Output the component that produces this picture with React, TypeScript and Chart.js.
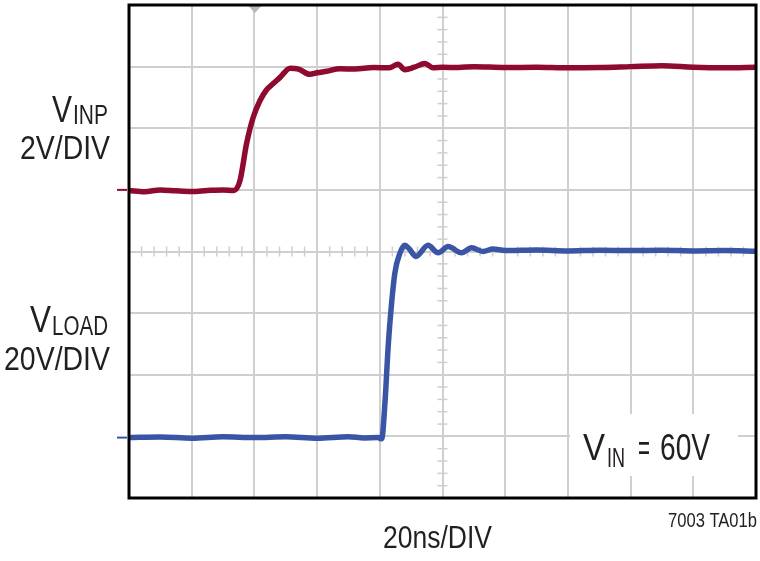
import React, { useEffect, useRef } from "react";
import { Chart, registerables } from "chart.js";

Chart.register(...registerables);

// Time axis: 20 ns/div, 10 divisions
const X_TICK_LABELS = ["0", "20", "40", "60", "80", "100", "120", "140", "160", "180", "200"];

// V_INP (2V/DIV), time in ns, value in volts
const inpTime = [0, 5, 10, 15, 20, 25, 30, 33.5, 35.4, 37.5, 39.6, 41.8, 43.9, 46, 48.2, 51.4, 54.1, 57.7, 60, 63.1, 67.3, 72, 78, 83, 85.8, 88, 91, 94.4, 97, 100, 105, 110, 120, 130, 140, 150, 160, 170, 180, 190, 200];
const inpVolts = [-0.02, -0.06, 0.0, -0.03, -0.05, -0.02, 0.0, -0.02, 0.3, 1.5, 2.35, 2.9, 3.25, 3.45, 3.65, 3.95, 3.92, 3.75, 3.8, 3.85, 3.93, 3.92, 3.97, 3.96, 4.08, 3.9, 3.98, 4.1, 3.96, 3.98, 3.97, 4.0, 3.97, 3.98, 3.96, 3.97, 4.0, 4.03, 3.98, 3.96, 3.98];

// V_LOAD (20V/DIV), time in ns, value in volts
const loadTime = [0, 10, 20, 30, 40, 50, 60, 70, 75, 79.4, 80.6, 81.7, 82.6, 83.3, 84.8, 86.4, 88, 89.3, 91.5, 95.4, 98.6, 101.8, 106.1, 109.3, 112.9, 116.1, 120, 130, 140, 150, 160, 170, 180, 190, 200];
const loadVolts = [-0.4, -0.2, -0.6, -0.1, -0.4, -0.1, -0.6, -0.1, -0.5, -0.4, -0.8, 11.8, 28, 37.8, 53, 59.4, 62, 61, 58.4, 62, 59.6, 61.6, 59.6, 61.2, 60, 60.8, 60.3, 60.5, 60.2, 60.4, 60.3, 60.4, 60.2, 60.3, 60.1];

const RED = "#8e0a2e";
const BLUE = "#3a55a5";
const GRID = "#cfcfcf";
const FONT = "'Liberation Sans', Arial, sans-serif";

function drawFit(ctx: CanvasRenderingContext2D, text: string, size: number, left: number, baseline: number, width?: number) {
  ctx.save();
  ctx.font = `${size}px ${FONT}`;
  ctx.textAlign = "left";
  ctx.textBaseline = "alphabetic";
  const w = ctx.measureText(text).width;
  const sx = width ? width / w : 1;
  ctx.translate(left, baseline);
  ctx.scale(sx, 1);
  ctx.fillStyle = "#231f20";
  ctx.fillText(text, 0, 0);
  ctx.restore();
}

const scopePlugin = {
  id: "scope",
  beforeDatasetsDraw(chart: any) {
    const ctx = chart.ctx as CanvasRenderingContext2D;
    const { top } = chart.chartArea;
    const xs = chart.scales.x;
    const ys = chart.scales.y;
    const cx = xs.getPixelForValue(100);
    const cy = ys.getPixelForValue(-2);
    ctx.save();
    ctx.strokeStyle = GRID;
    ctx.lineWidth = 1.5;
    // minor ticks on center vertical
    for (let v = -10; v <= 6; v += 0.4) {
      const py = ys.getPixelForValue(v);
      ctx.beginPath();
      ctx.moveTo(cx - 5, py);
      ctx.lineTo(cx + 5, py);
      ctx.stroke();
    }
    // minor ticks on center horizontal
    for (let t = 0; t <= 200; t += 4) {
      const px = xs.getPixelForValue(t);
      ctx.beginPath();
      ctx.moveTo(px, cy - 5);
      ctx.lineTo(px, cy + 5);
      ctx.stroke();
    }
    // trigger marker
    const tx = xs.getPixelForValue(40);
    ctx.fillStyle = "#b8b8b8";
    ctx.beginPath();
    ctx.moveTo(tx - 6, top + 1);
    ctx.lineTo(tx + 7, top + 1);
    ctx.lineTo(tx + 0.5, top + 8);
    ctx.closePath();
    ctx.fill();
    // white box behind VIN label
    ctx.fillStyle = "#ffffff";
    ctx.fillRect(570, 414, 168, 62);
    ctx.restore();
  },
  afterDraw(chart: any) {
    const ctx = chart.ctx as CanvasRenderingContext2D;
    const { left, right, top, bottom } = chart.chartArea;
    const ys = chart.scales.y;
    const y2 = chart.scales.y2;
    ctx.save();
    // frame
    ctx.strokeStyle = "#000000";
    ctx.lineWidth = 3;
    ctx.strokeRect(left, top, right - left, bottom - top);
    // ground markers
    ctx.lineWidth = 2;
    ctx.strokeStyle = RED;
    const ry = ys.getPixelForValue(0);
    ctx.beginPath();
    ctx.moveTo(left - 12, ry);
    ctx.lineTo(left - 2, ry);
    ctx.stroke();
    ctx.strokeStyle = BLUE;
    const by = y2.getPixelForValue(-0.4);
    ctx.beginPath();
    ctx.moveTo(left - 12, by);
    ctx.lineTo(left - 2, by);
    ctx.stroke();
    ctx.restore();

    // labels
    drawFit(ctx, "V", 36, 52, 122, 20);
    drawFit(ctx, "INP", 27, 73, 124, 35);
    drawFit(ctx, "2V/DIV", 33, 20, 159, 90);
    drawFit(ctx, "V", 36, 30, 332, 21);
    drawFit(ctx, "LOAD", 27, 52, 335, 56);
    drawFit(ctx, "20V/DIV", 33, 4, 370, 106);
    drawFit(ctx, "V", 36, 583, 460, 22);
    drawFit(ctx, "IN", 27, 607, 467, 18);
    drawFit(ctx, "=", 36, 638, 460, 12);
    drawFit(ctx, "60V", 36, 660, 460, 50);
    drawFit(ctx, "20ns/DIV", 32, 383, 548, 109);
    drawFit(ctx, "7003 TA01b", 20, 668, 527, 89);
  },
};

export default function App() {
  const ref = useRef<HTMLCanvasElement | null>(null);
  useEffect(() => {
    document.body.style.margin = "0";
    const canvas = ref.current!;
    const chart = new Chart(canvas, {
      type: "line",
      data: {
        datasets: [
          {
            label: "VINP",
            data: inpTime.map((t, i) => ({ x: t, y: inpVolts[i] })),
            borderColor: RED,
            borderWidth: 5.5,
            pointRadius: 0,
            cubicInterpolationMode: "monotone",
            yAxisID: "y",
          },
          {
            label: "VLOAD",
            data: loadTime.map((t, i) => ({ x: t, y: loadVolts[i] })),
            borderColor: BLUE,
            borderWidth: 5.5,
            pointRadius: 0,
            cubicInterpolationMode: "monotone",
            yAxisID: "y2",
          },
        ],
      },
      options: {
        animation: false,
        responsive: false,
        maintainAspectRatio: false,
        events: [],
        layout: { padding: { left: 129, top: 5, right: 4, bottom: 63 } },
        plugins: { legend: { display: false }, tooltip: { enabled: false }, title: { display: false } },
        scales: {
          x: {
            type: "linear",
            min: 0,
            max: 200,
            ticks: {
              display: false,
              stepSize: 20,
              callback: (_v: any, i: number) => X_TICK_LABELS[i],
            },
            grid: { color: GRID, lineWidth: 2, drawTicks: false },
            border: { display: false },
          },
          y: {
            type: "linear",
            min: -10,
            max: 6,
            ticks: { display: false, stepSize: 2 },
            grid: { color: GRID, lineWidth: 2, drawTicks: false },
            border: { display: false },
          },
          y2: {
            type: "linear",
            display: false,
            min: -20,
            max: 140,
          },
        },
      },
      plugins: [scopePlugin],
    });
    return () => chart.destroy();
  }, []);
  return <canvas ref={ref} width={760} height={561} style={{ display: "block" }} />;
}
